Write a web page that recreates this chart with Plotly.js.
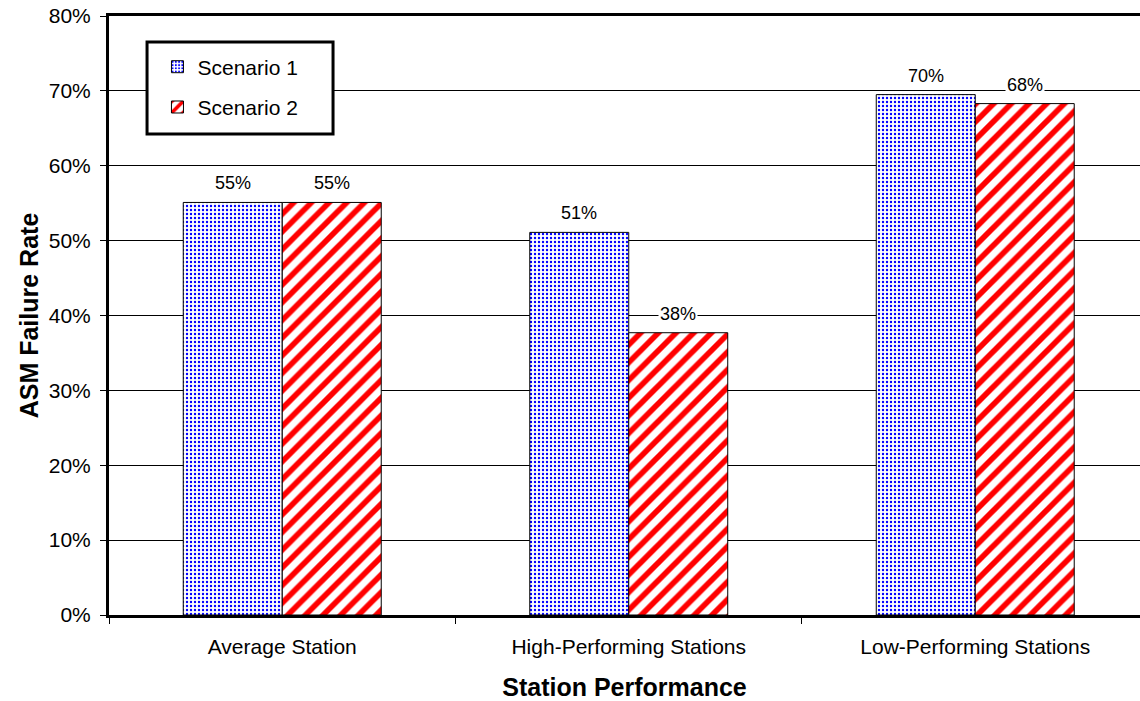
<!DOCTYPE html>
<html>
<head>
<meta charset="utf-8">
<script src="https://cdn.plot.ly/plotly-3.0.1.min.js"></script>
<style>
  html, body { margin: 0; padding: 0; background: #fff; overflow: hidden; }
  #chart { width: 1140px; height: 701px; }
</style>
</head>
<body>
<div id="chart"></div>
<script>
// ASM failure rate by station performance group
const categories = ["Average Station", "High-Performing Stations", "Low-Performing Stations"];
const scenario1 = [0.551, 0.511, 0.695];
const scenario2 = [0.551, 0.377, 0.683];
const seriesNames = ["Scenario 1", "Scenario 2"];
const yTickVals = [0, 0.1, 0.2, 0.3, 0.4, 0.5, 0.6, 0.7, 0.8];

const FONT = "Liberation Sans, Arial, sans-serif";
const BAR_PX = 99; // rendered width of one bar in pixels, used to centre labels

const traces = [
  {
    type: "bar",
    name: seriesNames[0],
    legendgroup: "s1",
    x: categories,
    y: scenario1,
    marker: {
      color: "#ffffff",
      line: { color: "#000000", width: 1 },
      pattern: { shape: ".", fgcolor: "#0000ff", bgcolor: "#ffffff", fgopacity: 1, size: 4, solidity: 0.28, fillmode: "overlay" }
    },
    hoverinfo: "x+y"
  },
  {
    type: "bar",
    name: seriesNames[1],
    legendgroup: "s2",
    x: categories,
    y: scenario2,
    marker: {
      color: "#ffffff",
      line: { color: "#000000", width: 1 },
      pattern: { shape: "/", fgcolor: "#ff0000", bgcolor: "#ffffff", fgopacity: 1, size: 12.5, solidity: 0.45, fillmode: "overlay" }
    },
    hoverinfo: "x+y"
  }
];

// value labels above each bar, with a white backing over the gridlines
const annotations = [];
[scenario1, scenario2].forEach((vals, si) => {
  vals.forEach((v, i) => {
    annotations.push({
      x: categories[i], y: v, xref: "x", yref: "y",
      xshift: (si === 0 ? -1 : 1) * BAR_PX / 2,
      yshift: 7,
      yanchor: "bottom",
      text: Math.round(v * 100) + "%",
      showarrow: false,
      bgcolor: "#ffffff",
      borderpad: 1,
      font: { family: FONT, size: 18, color: "#000000" }
    });
  });
});

const layout = {
  width: 1140,
  height: 701,
  margin: { l: 109, r: 0, t: 16, b: 86 },
  paper_bgcolor: "#ffffff",
  plot_bgcolor: "#ffffff",
  font: { family: FONT, color: "#000000" },
  barmode: "group",
  bargap: 0.4286,
  bargroupgap: 0,
  showlegend: true,
  legend: {
    x: 0.047, y: 0.949, xanchor: "left", yanchor: "top",
    bgcolor: "rgba(0,0,0,0)",
    borderwidth: 0,
    tracegroupgap: 10,
    font: { family: FONT, size: 21, color: "#000000" }
  },
  xaxis: {
    type: "category",
    range: [-0.5, 2.4755],
    tickson: "boundaries",
    ticks: "outside",
    ticklen: 6,
    tickcolor: "#000000",
    showline: true,
    linecolor: "#000000",
    linewidth: 3,
    mirror: true,
    showgrid: false,
    ticklabelstandoff: 11,
    tickfont: { family: FONT, size: 21 },
    title: { text: "<b>Station Performance</b>", font: { family: FONT, size: 25 }, standoff: 22 }
  },
  yaxis: {
    range: [0, 0.8],
    tickvals: yTickVals,
    tickformat: ".0%",
    ticks: "outside",
    ticklen: 6,
    tickcolor: "#000000",
    showline: true,
    linecolor: "#000000",
    linewidth: 3,
    showgrid: true,
    gridcolor: "#000000",
    gridwidth: 1,
    zeroline: false,
    ticklabelstandoff: 5,
    tickfont: { family: FONT, size: 21 },
    title: { text: "<b>ASM Failure Rate</b>", font: { family: FONT, size: 25 }, standoff: 4 }
  },
  annotations: annotations,
  shapes: [
    {
      type: "rect", xref: "paper", yref: "paper",
      x0: 0.0369, x1: 0.2173, y0: 0.803, y1: 0.9566,
      line: { color: "#000000", width: 3 },
      fillcolor: "#ffffff",
      layer: "above"
    }
  ]
};

Plotly.newPlot("chart", traces, layout, { staticPlot: true, displayModeBar: false });
</script>
</body>
</html>
